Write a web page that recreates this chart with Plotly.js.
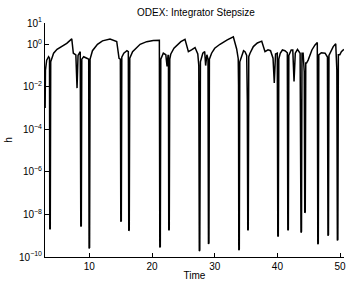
<!DOCTYPE html>
<html>
<head>
<meta charset="utf-8">
<script src="https://cdn.plot.ly/plotly-3.0.1.min.js"></script>
<style>html,body{margin:0;padding:0;background:#fff;}#chart{width:346px;height:281px;}</style>
</head>
<body>
<div id="chart"></div>
<script>
// Time values
const time = [
  2.95, 3.00, 3.20, 3.50, 3.65, 3.69, 3.77, 3.84, 4.00, 4.30, 4.85, 5.60, 6.40, 7.20,
  7.45, 7.85, 8.04, 8.20, 8.55, 8.64, 8.72, 8.80, 9.10, 9.60, 9.90, 9.96, 10.04,
  10.12, 10.50, 11.30, 12.10, 13.30, 14.37, 14.74, 14.95, 15.02, 15.10,
  15.18, 15.50, 16.00, 16.22, 16.29, 16.37,
  16.45, 16.90, 18.10, 19.15, 20.20, 21.17, 21.24, 21.32,
  21.40, 21.80, 22.20, 22.40, 22.55, 22.62, 22.67, 22.75,
  22.83, 23.00, 23.50, 24.00, 24.60, 25.26, 25.80, 26.30, 26.86, 27.30, 27.46, 27.54, 27.62,
  27.72, 28.10, 28.40, 28.55, 28.75, 28.93, 29.00, 29.08,
  29.15, 29.50, 30.00, 30.84, 32.00, 32.97, 33.50, 33.75, 33.80, 33.84, 33.92,
  34.00, 34.30, 34.60, 34.83, 35.10, 35.20, 35.27, 35.35,
  35.43, 35.63, 36.16, 36.80, 37.50, 38.02, 38.50, 38.90, 39.30, 39.50, 39.70, 39.98, 40.06, 40.14,
  40.22, 40.45, 40.80, 41.20, 41.58, 41.66, 41.74,
  41.82, 42.20, 42.45, 42.65, 42.85, 43.20, 43.62, 43.76, 43.84,
  43.92, 44.10, 44.28, 44.36, 44.44,
  44.52, 44.65, 44.90, 45.50, 46.00, 46.36, 46.44, 46.52,
  46.60, 47.00, 47.60, 47.98, 48.06, 48.14,
  48.22, 48.40, 48.90, 49.30, 49.48, 49.56, 49.64,
  49.72, 49.95, 50.20, 50.60
];
// Integrator stepsize h
const stepsize = [
  0.001, 0.06, 0.18, 0.26, 0.22, 2.0e-9, 2.2e-9, 0.15, 0.2, 0.38, 0.58, 0.8, 1.1, 1.8,
  0.38, 0.32, 0.0087, 0.3, 0.45, 2.7e-9, 3.0e-9, 0.2, 0.26, 0.22, 0.2, 2.5e-10, 2.8e-10,
  0.2, 0.5, 1.0, 1.45, 1.75, 1.35, 0.22, 0.2, 4.6e-9, 5.0e-9,
  0.25, 0.38, 0.5, 0.45, 1.7e-9, 1.9e-9,
  0.22, 0.45, 1.0, 1.33, 1.5, 1.55, 2.8e-10, 3.1e-10,
  0.2, 0.38, 0.32, 0.09, 0.3, 0.3, 1.8e-9, 2.0e-9,
  0.2, 0.35, 0.65, 0.95, 1.33, 1.7, 0.45, 0.55, 0.7, 0.35, 0.1, 1.9e-10, 2.1e-10,
  0.15, 0.38, 0.45, 0.1, 0.32, 0.2, 4.1e-10, 4.5e-10,
  0.2, 0.38, 0.65, 1.0, 1.6, 2.25, 0.6, 0.21, 0.012, 2.1e-10, 2.3e-10,
  0.15, 0.32, 0.5, 0.45, 0.3, 0.0025, 1.8e-9, 2.0e-9,
  0.26, 0.38, 0.78, 1.15, 1.4, 0.45, 0.55, 0.5, 0.22, 0.015, 0.35, 0.38, 9.1e-10, 1.0e-9,
  0.2, 0.38, 0.54, 0.5, 0.4, 1.8e-9, 2.0e-9,
  0.3, 0.54, 0.54, 0.018, 0.38, 0.58, 0.38, 1.4e-9, 1.6e-9,
  0.38, 0.38, 0.05, 1.2e-8, 1.3e-8,
  0.13, 0.13, 0.18, 0.54, 0.93, 1.2, 4.0e-10, 4.4e-10,
  0.32, 0.4, 0.38, 0.25, 1.0e-9, 1.1e-9,
  0.3, 0.38, 0.78, 1.05, 0.06, 6.0e-10, 6.6e-10,
  0.32, 0.32, 0.45, 0.58
];
const xTicks = [10, 20, 30, 40, 50];
const yTickVals = [1e-10, 1e-8, 1e-6, 1e-4, 1e-2, 1e0, 1e1];
const yTickText = ['10<sup>\u221210</sup>', '10<sup>\u22128</sup>', '10<sup>\u22126</sup>',
  '10<sup>\u22124</sup>', '10<sup>\u22122</sup>', '10<sup>0</sup>', '10<sup>1</sup>'];

const font = {family: 'Liberation Sans, Arial, sans-serif', size: 10, color: '#000'};

const trace = {
  x: time, y: stepsize, type: 'scatter', mode: 'lines',
  line: {color: '#000', width: 1.5}, hoverinfo: 'skip'
};

const layout = {
  width: 346, height: 281,
  margin: {l: 45, r: 2, t: 23, b: 24, pad: 0},
  paper_bgcolor: '#fff', plot_bgcolor: '#fff',
  font: font,
  showlegend: false,
  title: {text: 'ODEX: Integrator Stepsize', font: {family: font.family, size: 10, color: '#000'},
          x: 0.505, xref: 'paper', xanchor: 'center', y: 1 - 12/281, yref: 'container', yanchor: 'middle'},
  xaxis: {
    range: [2.93, 50.62], tickvals: xTicks, ticks: 'inside', ticklen: 4, tickcolor: '#000',
    showline: true, linecolor: '#000', linewidth: 1, showgrid: false, zeroline: false,
    ticklabeloverflow: 'allow',
    tickfont: font, title: {text: 'Time', font: font, standoff: 1}
  },
  yaxis: {
    type: 'log', range: [-10, 1], tickvals: yTickVals, ticktext: yTickText,
    ticks: 'inside', ticklen: 4, tickcolor: '#000',
    showline: true, linecolor: '#000', linewidth: 1, showgrid: false, zeroline: false,
    tickfont: font, title: {text: 'h', font: font, standoff: 4}
  }
};

Plotly.newPlot('chart', [trace], layout, {displayModeBar: false, staticPlot: true});
</script>
</body>
</html>
